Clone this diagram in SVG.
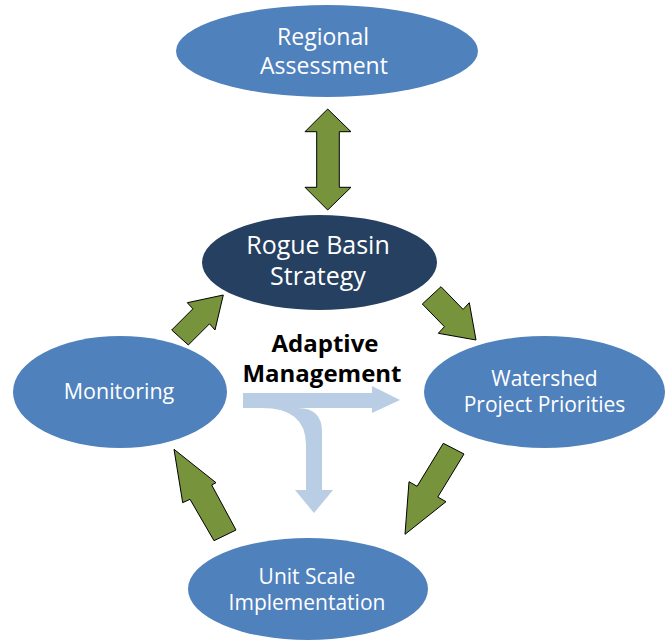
<svg xmlns="http://www.w3.org/2000/svg" width="666" height="640" viewBox="0 0 666 640">
  <style>
    .node { fill: #4F81BD; }
    .dark { fill: #254061; }
    .label { font-family: "Open Sans", "Liberation Sans", sans-serif; fill: #FFFFFF; text-anchor: middle; }
    .arrow { fill: #77933C; stroke: #000000; stroke-width: 1; stroke-linejoin: miter; }
    .title { font-family: "Open Sans", "Liberation Sans", sans-serif; font-weight: bold; fill: #000000; text-anchor: middle; font-size: 24px; }
  </style>
  <rect width="666" height="640" fill="#FFFFFF"/>

  <!-- connectors -->
  <g id="connectors">
    <!-- two-way link between the assessment and the strategy -->
    <polygon class="arrow" points="327.7,109 351,131.7 339.3,131.7 339.3,187.3 351,187.3 327.7,210 305,187.3 316.7,187.3 316.7,131.7 305,131.7"/>
    <!-- strategy to watershed priorities -->
    <polygon class="arrow" points="476,340 438.3,333.3 444.4,326.7 422.3,304 441,286.7 463.1,309.4 469.3,302.7"/>
    <!-- watershed priorities to unit scale implementation -->
    <polygon class="arrow" points="405,534.3 409,481.7 417.1,486.3 443.3,443.3 464,454 437.8,497 446,501.7"/>
    <!-- implementation to monitoring -->
    <polygon class="arrow" points="174,449.3 216,482.7 211.7,485 236,530 214,540.7 190,499.3 182.7,502.7"/>
    <!-- monitoring back to strategy -->
    <polygon class="arrow" points="223.3,295 215,330 209.5,323.8 188.3,345 171.7,330 192.9,308.8 187.3,302.7"/>
  </g>

  <!-- adaptive management split arrow -->
  <g id="adaptive-management">
    <path fill="#B9CDE5" d="M 243 393 H 372 V 386 L 400 400 L 372 413 V 408 H 298 Q 322 408 322 432 V 490 H 333 L 314 513 L 295 490 H 306 V 445 Q 306 408 262 408 H 243 Z"/>
    <text class="title" x="325" y="352">Adaptive</text>
    <text class="title" x="322" y="382">Management</text>
  </g>

  <g id="regional-assessment">
    <ellipse class="node" cx="327" cy="51" rx="151" ry="46"/>
    <text class="label" font-size="23" x="323" y="45">Regional</text>
    <text class="label" font-size="23" x="324" y="74">Assessment</text>
  </g>

  <g id="rogue-basin-strategy">
    <ellipse class="dark" cx="319.5" cy="262.5" rx="117.5" ry="47.5"/>
    <text class="label" font-size="25" x="318" y="254">Rogue Basin</text>
    <text class="label" font-size="25" x="318" y="285">Strategy</text>
  </g>

  <g id="monitoring">
    <ellipse class="node" cx="120" cy="392" rx="107" ry="56"/>
    <text class="label" font-size="21.5" x="119" y="399">Monitoring</text>
  </g>

  <g id="watershed-project-priorities">
    <ellipse class="node" cx="544.5" cy="392" rx="120.5" ry="56"/>
    <text class="label" font-size="21" x="544.5" y="386">Watershed</text>
    <text class="label" font-size="21" x="544.5" y="412">Project Priorities</text>
  </g>

  <g id="unit-scale-implementation">
    <ellipse class="node" cx="308" cy="589" rx="120" ry="51"/>
    <text class="label" font-size="21" x="307" y="584">Unit Scale</text>
    <text class="label" font-size="21" x="307" y="610">Implementation</text>
  </g>
</svg>
